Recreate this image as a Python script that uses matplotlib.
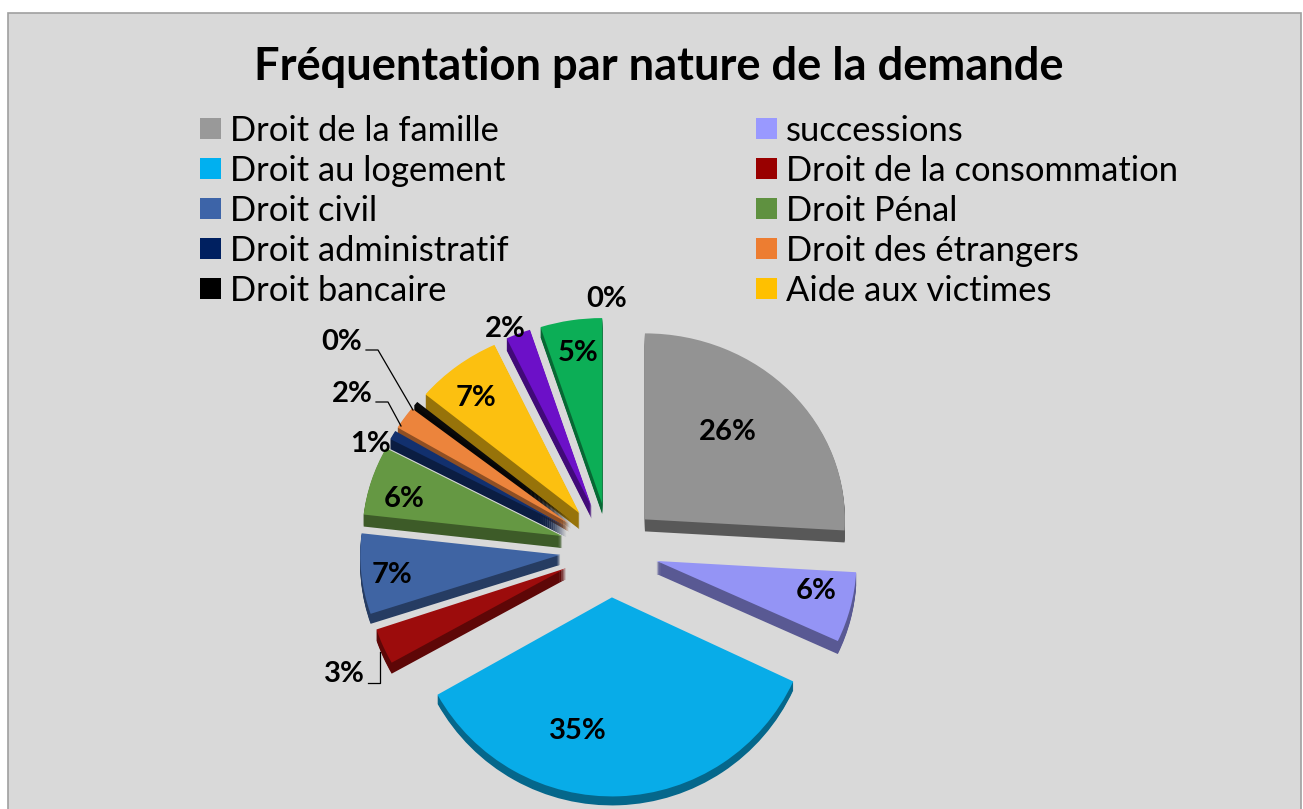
import matplotlib
matplotlib.use("Agg")
import matplotlib.pyplot as plt
from matplotlib.patches import Rectangle
from matplotlib.colors import to_rgb
from matplotlib.transforms import Affine2D

plt.rcParams['font.family'] = ['Lato', 'DejaVu Sans']

title = "Fréquentation par nature de la demande"

# ordre des parts, sens horaire depuis midi
noms = ["Droit de la famille", "successions", "Droit au logement", "Droit de la consommation",
        "Droit civil", "Droit Pénal", "Droit administratif", "Droit des étrangers",
        "Droit bancaire", "Aide aux victimes", "", ""]
valeurs = [26, 6, 35, 3, 7, 6, 0.8, 2, 0.4, 7, 2, 5]
etiquettes = ["26%", "6%", "35%", "3%", "7%", "6%", "1%", "2%", "0%", "7%", "2%", "5%"]
couleurs = ["#939393", "#9494F5", "#08ACE8", "#9C0C0C", "#3F64A3", "#659843",
            "#12306E", "#EC843C", "#0A0A0A", "#FCC010", "#6C10C8", "#0CAE56"]
couleurs_legende = ["#999999", "#9999FF", "#00B0F0", "#990000", "#3D64A8", "#5F9140",
                    "#002060", "#ED7D31", "#000000", "#FFC000"]

# positions en pixels de l'image
label_x = [728, 816, 578, 344, 392, 404, 371, 352, 342, 476, 505, 578]
label_y = [432, 591, 731, 674, 575, 499, 444, 394, 342, 398, 329, 353]
W, H = 1303, 809
cx, cy, rx, ry = 610, 550, 200, 186
eclats = [0.24, 0.24, 0.255, 0.24, 0.25, 0.25, 0.25, 0.25, 0.25, 0.25, 0.25, 0.25]
# la perspective agrandit un peu les parts du bas
etirement = [1, 1.02, 1.07, 1.04, 1, 1, 1, 1, 1, 1, 1, 1]
profondeurs = [12, 13, 9, 11, 10, 12, 10, 8, 8, 16, 12, 10]


def etirer(parts):
    for part, k in zip(parts, etirement):
        x0, y0 = part.center
        part.set_transform(Affine2D().translate(-x0, -y0).scale(1, k).translate(x0, y0) + ax.transData)


fig = plt.figure(figsize=(W / 100, H / 100), dpi=100, facecolor="white")

fond = fig.add_axes([0, 0, 1, 1], zorder=0)
fond.set_xlim(0, W)
fond.set_ylim(H, 0)
fond.axis("off")
fond.add_patch(Rectangle((8, 13), W - 10, H, facecolor="#D9D9D9", edgecolor="#A0A0A0", lw=1.2))

# camembert elliptique : une unité = rx en x, ry en y
ax = fig.add_axes([0, 0, 1, 1], zorder=1)
ax.patch.set_alpha(0)
sombres = [tuple(c * 0.6 for c in to_rgb(col)) for col in couleurs]
for d in range(max(profondeurs), 0, -1):
    parts, _ = ax.pie(valeurs, colors=sombres, explode=eclats, startangle=90, counterclock=False,
                      center=(0, -d / ry), radius=1, frame=False)
    etirer(parts)
    for part, p in zip(parts, profondeurs):
        part.set_visible(d <= p)
parts, _ = ax.pie(valeurs, colors=couleurs, explode=eclats, startangle=90, counterclock=False,
                  center=(0, 0), radius=1, frame=False)
etirer(parts)
ax.set_aspect("auto")
ax.set_xlim(-cx / rx, (W - cx) / rx)
ax.set_ylim(-(H - cy) / ry, cy / ry)
ax.axis("off")

top = fig.add_axes([0, 0, 1, 1], zorder=2)
top.patch.set_alpha(0)
top.set_xlim(0, W)
top.set_ylim(H, 0)
top.axis("off")

top.text(659, 67, title, ha="center", va="center", fontsize=32.6, fontweight="bold", color="black")

# légende sur deux colonnes
lignes_y = [131, 171, 211, 251, 291]
gauche = noms[0:1] + noms[2:3] + noms[4:5] + noms[6:7] + noms[8:9]
droite = noms[1:2] + noms[3:4] + noms[5:6] + noms[7:8] + noms[9:10]
cg = couleurs_legende[0::2]
cd = couleurs_legende[1::2]
for y, a, b, c1, c2 in zip(lignes_y, gauche, droite, cg, cd):
    top.add_patch(Rectangle((200, y - 13), 21, 21, facecolor=c1, edgecolor="none"))
    top.text(230, y, a, ha="left", va="center", fontsize=24.8, color="black")
    top.add_patch(Rectangle((756, y - 13), 21, 21, facecolor=c2, edgecolor="none"))
    top.text(786, y, b, ha="left", va="center", fontsize=24.8, color="black")

for x, y, s in zip(label_x, label_y, etiquettes):
    top.text(x, y, s, ha="center", va="center", fontsize=21, fontweight="bold", color="black")
top.text(607, 299, "0%", ha="center", va="center", fontsize=21, fontweight="bold", color="black")

# traits de rappel
top.plot([366, 378, 413], [350, 350, 410], color="black", lw=0.9)
top.plot([376, 388, 401], [402, 402, 426], color="black", lw=0.9)
top.plot([368, 380, 380], [683, 683, 652], color="black", lw=0.9)

fig.savefig("out.png", dpi=100)
